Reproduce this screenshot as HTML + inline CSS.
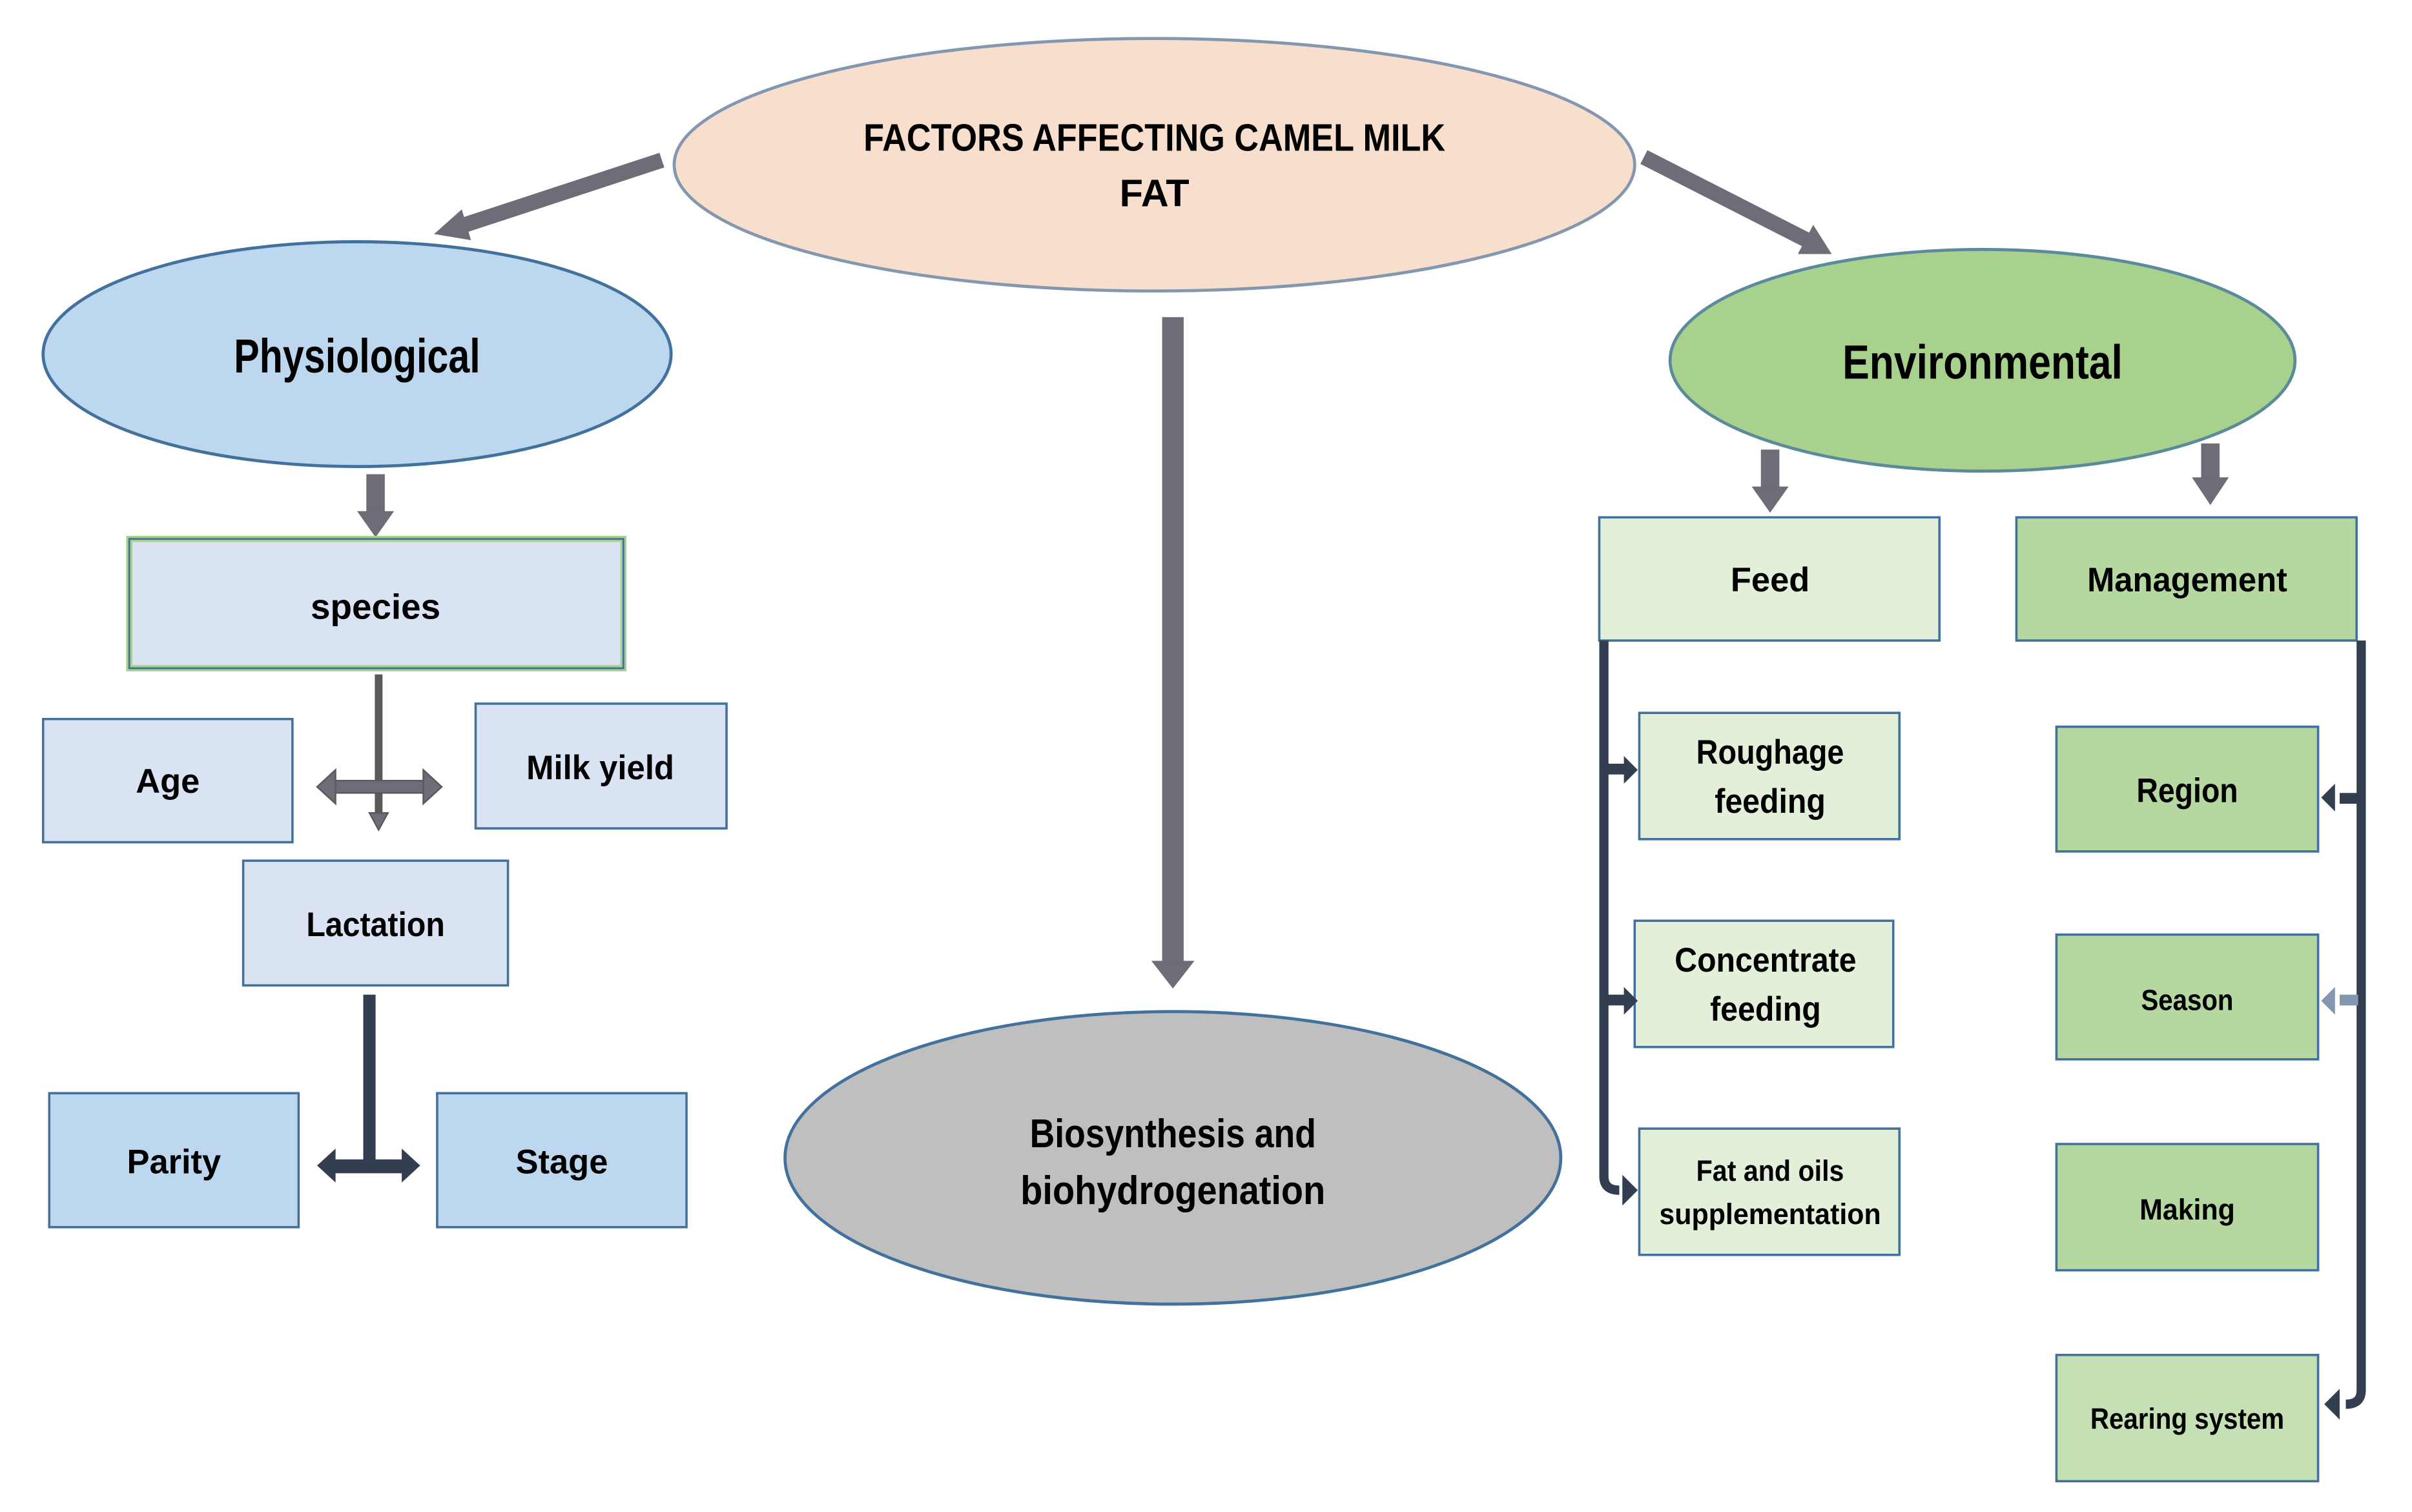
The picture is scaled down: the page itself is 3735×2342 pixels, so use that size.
<!DOCTYPE html>
<html><head><meta charset="utf-8"><style>html,body{margin:0;padding:0;background:#fff}svg{display:block}</style></head>
<body>
<svg width="3735" height="2342" viewBox="0 0 1567 982" preserveAspectRatio="none" xmlns="http://www.w3.org/2000/svg" font-family="'Liberation Sans Narrow','Liberation Sans',sans-serif" font-weight="bold">
<!-- big gray arrows -->
<g stroke="#6d6d78" fill="#6d6d78">
<line x1="430" y1="104" x2="296" y2="148" stroke-width="10"/>
<polygon points="282,152 300,136 306,156" stroke="none"/>
<line x1="1068" y1="102" x2="1176" y2="157" stroke-width="10"/>
<polygon points="1190,165 1168,165 1178,146" stroke="none"/>
<line x1="762" y1="206" x2="762" y2="626" stroke-width="14"/>
<polygon points="748,624 776,624 762,642" stroke="none"/>
<line x1="244" y1="308" x2="244" y2="334" stroke-width="12"/>
<polygon points="232,332 256,332 244,349" stroke="none"/>
<line x1="1150" y1="292" x2="1150" y2="318" stroke-width="12"/>
<polygon points="1138,316 1162,316 1150,333" stroke="none"/>
<line x1="1436" y1="288" x2="1436" y2="312" stroke-width="12"/>
<polygon points="1424,310 1448,310 1436,328" stroke="none"/>
</g>
<!-- ellipses -->
<ellipse cx="750" cy="107" rx="312" ry="82" fill="#f8dfcd" stroke="#8497b0" stroke-width="2"/>
<ellipse cx="232" cy="230" rx="204" ry="73" fill="#bdd7ee" stroke="#41719c" stroke-width="2"/>
<ellipse cx="1288" cy="234" rx="203" ry="72" fill="#a9d18e" stroke="#5b8a9c" stroke-width="2"/>
<ellipse cx="762" cy="752" rx="252" ry="95" fill="#bfbfbf" stroke="#41719c" stroke-width="2"/>
<g fill="#000" text-anchor="middle">
<text x="750" y="98" font-size="25" textLength="378" lengthAdjust="spacingAndGlyphs">FACTORS AFFECTING CAMEL MILK</text>
<text x="750" y="134" font-size="25">FAT</text>
<text x="232" y="242" font-size="31" textLength="160" lengthAdjust="spacingAndGlyphs">Physiological</text>
<text x="1288" y="246" font-size="31" textLength="182" lengthAdjust="spacingAndGlyphs">Environmental</text>
<text x="762" y="745" font-size="26" textLength="186" lengthAdjust="spacingAndGlyphs">Biosynthesis and</text>
<text x="762" y="782" font-size="26" textLength="198" lengthAdjust="spacingAndGlyphs">biohydrogenation</text>
</g>
<!-- left boxes -->
<rect x="84" y="350" width="321" height="84" fill="#dae3f3" stroke="#a9d18e" stroke-width="4"/>
<rect x="84" y="350" width="321" height="84" fill="none" stroke="#41719c" stroke-width="1.2"/>
<rect x="28" y="467" width="162" height="80" fill="#dae3f3" stroke="#41719c" stroke-width="1.5"/>
<rect x="309" y="457" width="163" height="81" fill="#dae3f3" stroke="#41719c" stroke-width="1.5"/>
<rect x="158" y="559" width="172" height="81" fill="#dae3f3" stroke="#41719c" stroke-width="1.5"/>
<rect x="32" y="710" width="162" height="87" fill="#bdd7ee" stroke="#41719c" stroke-width="1.5"/>
<rect x="284" y="710" width="162" height="87" fill="#bdd7ee" stroke="#41719c" stroke-width="1.5"/>
<!-- cross arrows -->
<g stroke="#595959" fill="#6d6d78">
<line x1="246" y1="438" x2="246" y2="530" stroke-width="5"/>
<polygon points="240,528 252,528 246,539"/>
<rect x="214" y="507" width="64" height="8"/>
<polygon points="206,511 218,500 218,522"/>
<polygon points="287,511 275,500 275,522"/>
</g>
<g fill="#333f50">
<rect x="236" y="646" width="8" height="112"/>
<rect x="214" y="753" width="50" height="9"/>
<polygon points="206,757 218,746 218,768"/>
<polygon points="273,757 261,746 261,768"/>
</g>
<!-- right boxes -->
<rect x="1039" y="336" width="221" height="80" fill="#e2f0d9" stroke="#41719c" stroke-width="1.5"/>
<rect x="1310" y="336" width="221" height="80" fill="#b5d7a0" stroke="#41719c" stroke-width="1.5"/>
<rect x="1065" y="463" width="169" height="82" fill="#e2f0d9" stroke="#41719c" stroke-width="1.5"/>
<rect x="1062" y="598" width="168" height="82" fill="#e2f0d9" stroke="#41719c" stroke-width="1.5"/>
<rect x="1065" y="733" width="169" height="82" fill="#e2f0d9" stroke="#41719c" stroke-width="1.5"/>
<rect x="1336" y="472" width="170" height="81" fill="#b5d7a0" stroke="#41719c" stroke-width="1.5"/>
<rect x="1336" y="607" width="170" height="81" fill="#b5d7a0" stroke="#41719c" stroke-width="1.5"/>
<rect x="1336" y="743" width="170" height="82" fill="#b5d7a0" stroke="#41719c" stroke-width="1.5"/>
<rect x="1336" y="880" width="170" height="82" fill="#c5e0b4" stroke="#41719c" stroke-width="1.5"/>
<!-- brackets -->
<g fill="none" stroke="#333f50" stroke-width="6">
<path d="M1042,416 L1042,764 Q1042,773 1052,773"/>
<path d="M1534,416 L1534,903 Q1534,912 1524,912"/>
</g>
<g fill="#333f50">
<rect x="1044" y="496" width="12" height="7"/><polygon points="1064,500 1055,491 1055,509"/>
<rect x="1044" y="646" width="12" height="7"/><polygon points="1064,650 1055,641 1055,659"/>
<polygon points="1064,773 1054,763 1054,783"/>
<rect x="1520" y="515" width="12" height="7"/><polygon points="1508,518 1517,509 1517,527"/>
<rect x="1520" y="646" width="12" height="7" fill="#8497b0"/><polygon points="1508,650 1517,641 1517,659" fill="#8497b0"/>
<polygon points="1510,912 1520,902 1520,922"/>
</g>
<g fill="#000" text-anchor="middle">
<text x="244" y="402" font-size="23">species</text>
<text x="109" y="515" font-size="22">Age</text>
<text x="390" y="506" font-size="22" textLength="96" lengthAdjust="spacingAndGlyphs">Milk yield</text>
<text x="244" y="608" font-size="22" textLength="90" lengthAdjust="spacingAndGlyphs">Lactation</text>
<text x="113" y="762" font-size="22">Parity</text>
<text x="365" y="762" font-size="22">Stage</text>
<text x="1150" y="384" font-size="22">Feed</text>
<text x="1421" y="384" font-size="22" textLength="130" lengthAdjust="spacingAndGlyphs">Management</text>
<text x="1150" y="496" font-size="22" textLength="96" lengthAdjust="spacingAndGlyphs">Roughage</text>
<text x="1150" y="528" font-size="22" textLength="72" lengthAdjust="spacingAndGlyphs">feeding</text>
<text x="1147" y="631" font-size="22" textLength="118" lengthAdjust="spacingAndGlyphs">Concentrate</text>
<text x="1147" y="663" font-size="22" textLength="72" lengthAdjust="spacingAndGlyphs">feeding</text>
<text x="1150" y="767" font-size="19" textLength="96" lengthAdjust="spacingAndGlyphs">Fat and oils</text>
<text x="1150" y="795" font-size="19" textLength="144" lengthAdjust="spacingAndGlyphs">supplementation</text>
<text x="1421" y="521" font-size="22" textLength="66" lengthAdjust="spacingAndGlyphs">Region</text>
<text x="1421" y="656" font-size="19" textLength="60" lengthAdjust="spacingAndGlyphs">Season</text>
<text x="1421" y="792" font-size="19" textLength="62" lengthAdjust="spacingAndGlyphs">Making</text>
<text x="1421" y="928" font-size="19" textLength="126" lengthAdjust="spacingAndGlyphs">Rearing system</text>
</g>
</svg>
</body></html>
